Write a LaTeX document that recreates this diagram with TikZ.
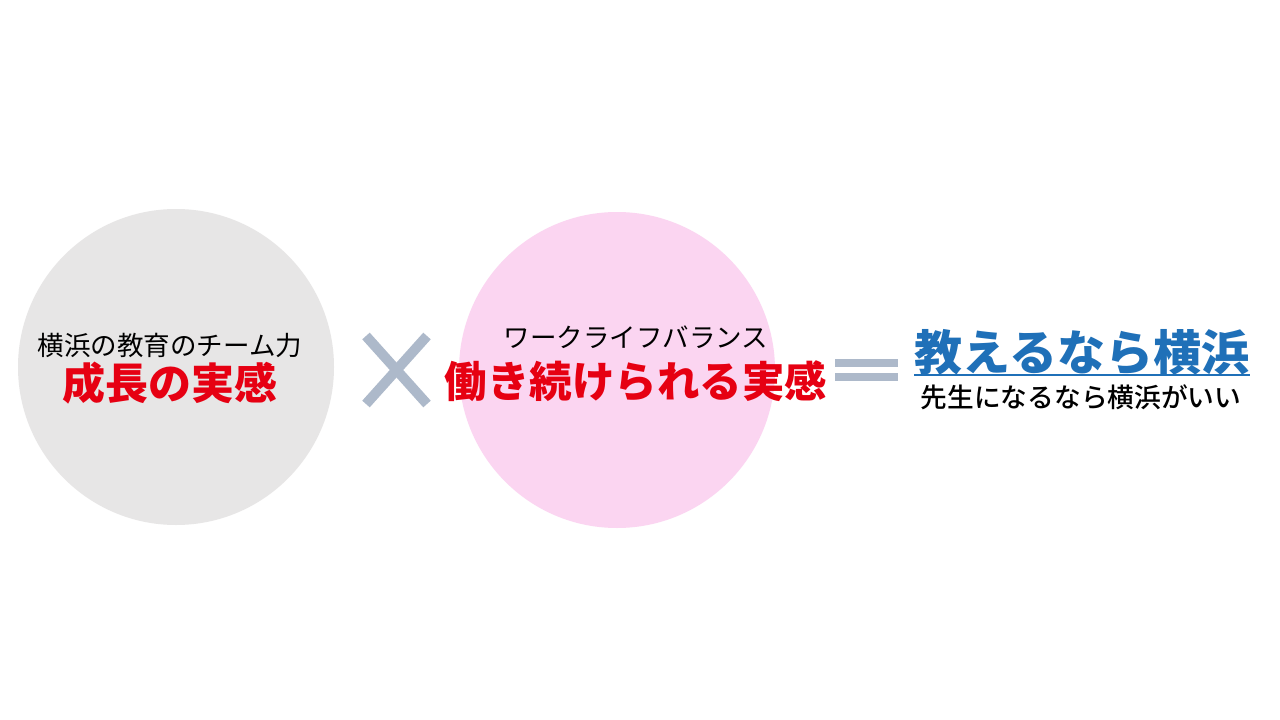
\documentclass[tikz,border=0pt]{standalone}
\usepackage{fontspec}
\newfontfamily\cjk{Noto Sans CJK JP}
\newfontfamily\cjkmed{Noto Sans CJK JP Medium}
\definecolor{circgray}{HTML}{E7E6E6}
\definecolor{circpink}{HTML}{FBD5F1}
\definecolor{opgray}{HTML}{ADB9CA}
\definecolor{accred}{HTML}{E60012}
\definecolor{accblue}{HTML}{1F70B8}
\begin{document}
\begin{tikzpicture}[x=1pt,y=-1pt,
  bubble/.style={circle,inner sep=0pt,minimum size=#1},
  small/.style={inner sep=0pt,font=\cjk\fontsize{26.5}{30}\selectfont,text=black},
  big/.style={inner sep=0pt,font=\cjk\bfseries\fontsize{43}{48}\selectfont,text=accred},
  opline/.style={draw=opgray,line width=9pt}]
\useasboundingbox (0,0) rectangle (1280,720);
\fill[white] (0,0) rectangle (1280,720);
\node[bubble=316pt,fill=circgray] (c1) at (176,367) {};
\node[bubble=316pt,fill=circpink] (c2) at (617,370) {};
\node[small] (t1) at (170,345) {横浜の教育のチーム力};
\node[big] (b1) at (170,383) {成長の実感};
\node[small] (t2) at (636,337) {ワークライフバランス};
\node[big,font=\cjk\bfseries\fontsize{42.5}{48}\selectfont] (b2) at (636,381) {働き続けられる実感};
\coordinate (x1) at (366,336);
\coordinate (x2) at (427,404);
\coordinate (x3) at (366,404);
\coordinate (x4) at (427,336);
\draw[opline,line width=10pt] (x1) -- (x2);
\draw[opline,line width=10pt] (x3) -- (x4);
\coordinate (e1) at (835,363);
\coordinate (e2) at (898,363);
\coordinate (e3) at (835,377);
\coordinate (e4) at (898,377);
\draw[opline,line width=8pt] (e1) -- (e2);
\draw[opline,line width=8pt] (e3) -- (e4);
\node[inner sep=0pt,font=\cjk\bfseries\fontsize{48}{52}\selectfont,text=accblue] (r1) at (1082,352) {教えるなら横浜};
\coordinate (u1) at (914,375);
\coordinate (u2) at (1250,375);
\draw[accblue,line width=1.8pt] (u1) -- (u2);
\node[inner sep=0pt,font=\cjkmed\fontsize{26.7}{30}\selectfont,text=black] (r2) at (1081,397) {先生になるなら横浜がいい};
\end{tikzpicture}
\end{document}
